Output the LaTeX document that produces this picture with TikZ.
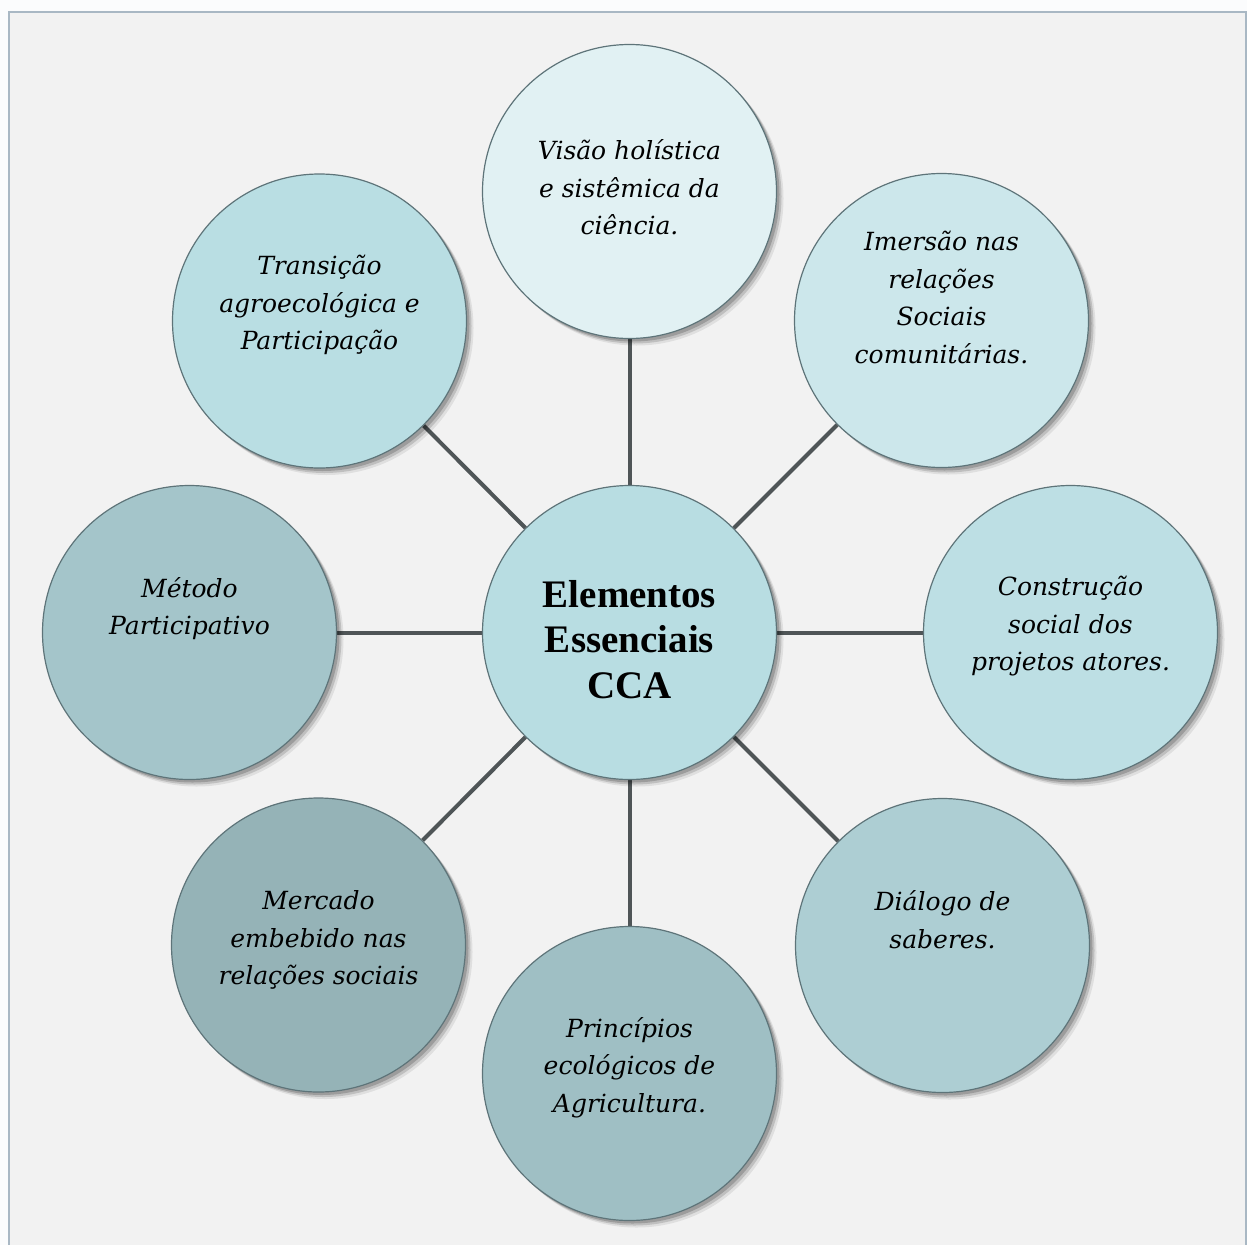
\documentclass[tikz,border=0pt]{standalone}
\usepackage{fontspec}
\setmainfont{Liberation Serif}
\newfontfamily\ringfont{DejaVu Serif}
\pgfdeclarelayer{back}
\pgfdeclarelayer{links}
\pgfsetlayers{back,links,main}
\definecolor{pagecol}{HTML}{FBFCFD}
\definecolor{panelcol}{HTML}{F2F2F2}
\definecolor{framecol}{HTML}{A9B8C4}
\definecolor{rimcol}{HTML}{5E7479}
\definecolor{linkcol}{HTML}{4F5557}
\definecolor{cC}{HTML}{B8DDE2}
\definecolor{cT}{HTML}{E1F1F3}
\definecolor{cTR}{HTML}{CCE7EB}
\definecolor{cR}{HTML}{BDDFE4}
\definecolor{cBR}{HTML}{ADCED3}
\definecolor{cB}{HTML}{9FBFC4}
\definecolor{cBL}{HTML}{95B3B7}
\definecolor{cL}{HTML}{A4C5CA}
\definecolor{cTL}{HTML}{B9DEE3}
\begin{document}
\begin{tikzpicture}[x=1pt,y=-1pt,
  bubble/.style={circle, minimum size=294pt, inner sep=0pt, draw=rimcol, line width=1.2pt, fill=#1,
    preaction={fill=black, opacity=0.08, transform canvas={shift={(7pt,-7pt)}}},
    preaction={fill=black, opacity=0.14, transform canvas={shift={(5pt,-5pt)}}},
    preaction={fill=black, opacity=0.18, transform canvas={shift={(3pt,-3pt)}}}},
  ringtext/.style={align=center, inner sep=0pt, text=black,
    font=\ringfont\itshape\fontsize{25}{37.5}\selectfont},
  hubtext/.style={align=center, inner sep=0pt, text=black,
    font=\bfseries\fontsize{39}{45.5}\selectfont},
  link/.style={draw=linkcol, line width=4pt}]
\useasboundingbox (0,0) rectangle (1247,1245);

% panel and its frame
\begin{pgfonlayer}{back}
  \fill[pagecol] (0,0) rectangle (1247,1245);
  \fill[panelcol] (9,12) rectangle (1246,1245);
  \draw[framecol, line width=1.5pt] (9,1245) -- (9,12) -- (1246,12) -- (1246,1245);
\end{pgfonlayer}

% circles
\node[bubble=cC]  (hub) at (629.5,632.5) {};
\node[bubble=cT]  (nT)  at (629.5,191.5) {};
\node[bubble=cTR] (nTR) at (941.5,320.5) {};
\node[bubble=cR]  (nR)  at (1070.5,632.5) {};
\node[bubble=cBR] (nBR) at (942.5,945.5) {};
\node[bubble=cB]  (nB)  at (629.5,1073.5) {};
\node[bubble=cBL] (nBL) at (318.5,945) {};
\node[bubble=cL]  (nL)  at (189.5,632.5) {};
\node[bubble=cTL] (nTL) at (319.5,321) {};

% spokes
\begin{pgfonlayer}{links}
  \foreach \n in {nT,nTR,nR,nBR,nB,nBL,nL,nTL}
    \draw[link] (hub) -- (\n);
\end{pgfonlayer}

% labels
\node[hubtext]  (tHub) at ([yshift=-7pt]hub.center) {Elementos\\Essenciais\\CCA};
\node[ringtext] (tT)   at ([yshift=4pt]nT.center)   {Visão holística\\e sistêmica da\\ciência.};
\node[ringtext] (tTR)  at ([yshift=23pt]nTR.center) {Imersão nas\\relações\\Sociais\\comunitárias.};
\node[ringtext] (tR)   at ([yshift=6pt]nR.center)   {Construção\\social dos\\projetos atores.};
\node[ringtext] (tBR)  at ([yshift=26pt]nBR.center) {Diálogo de\\saberes.};
\node[ringtext] (tB)   at ([yshift=6pt]nB.center)   {Princípios\\ecológicos de\\Agricultura.};
\node[ringtext] (tBL)  at ([yshift=5pt]nBL.center)  {Mercado\\embebido nas\\relações sociais};
\node[ringtext] (tL)   at ([yshift=24pt]nL.center)  {Método\\Participativo};
\node[ringtext] (tTL)  at ([yshift=16pt]nTL.center) {Transição\\agroecológica e\\Participação};
\end{tikzpicture}
\end{document}
